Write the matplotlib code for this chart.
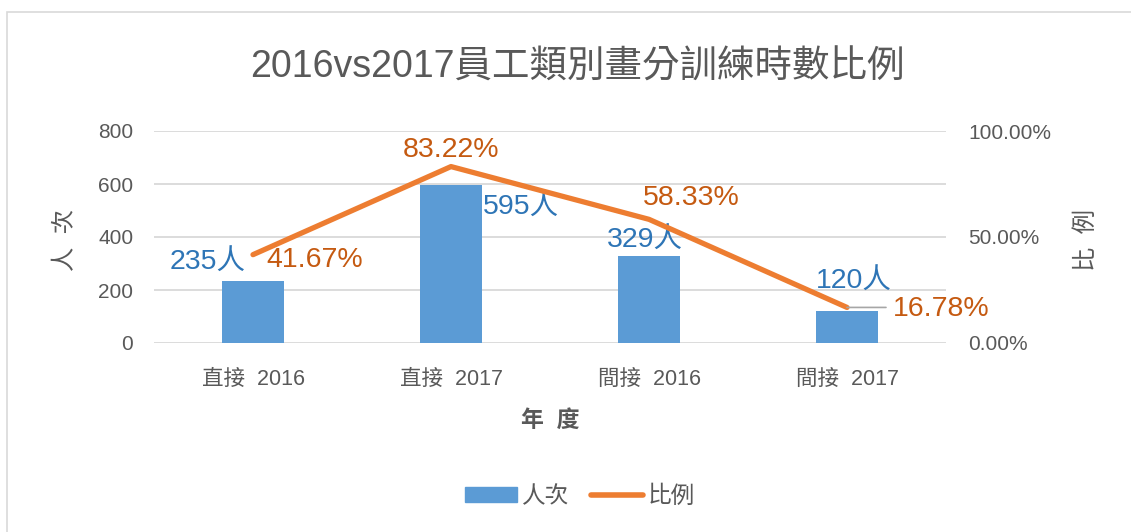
import matplotlib
matplotlib.use("Agg")
from matplotlib import pyplot as plt
from matplotlib.patches import Rectangle
from matplotlib.ticker import FuncFormatter

plt.rcParams['font.family'] = ['Liberation Sans', 'Noto Sans CJK TC', 'DejaVu Sans']

categories = ["直接  2016", "直接  2017", "間接  2016", "間接  2017"]
people = [235, 595, 329, 120]
ratio = [41.67, 83.22, 58.33, 16.78]

# label offsets in pixels (bar labels, line labels)
bar_off = [(-45, 19), (70, -22), (-4, 16), (7, 30)]
line_off = [(62, -5), (0, 17), (42, 21), (94, -2)]

blue = "#5B9BD5"
orange = "#ED7D31"
grey = "#595959"

W, H = 1131, 532
fig = plt.figure(figsize=(W / 100, H / 100), dpi=100)

# outer chart frame
fig.patches.append(Rectangle((7 / W, -0.1), 1.2, 1 - 12 / H + 0.1, transform=fig.transFigure,
                             fill=False, edgecolor="#D9D9D9", linewidth=1.2))

ax = fig.add_axes([154 / W, 1 - 343 / H, 792 / W, 212 / H])
x = range(len(categories))
ax.bar(x, people, width=0.31, color=blue, zorder=2)
ax.set_xlim(-0.5, 3.5)
ax.set_ylim(0, 800)
ax.set_yticks([0, 200, 400, 600, 800])
ax.grid(axis="y", color="#D9D9D9", linewidth=1.3, zorder=0)
ax.set_axisbelow(True)
for s in ax.spines.values():
    s.set_visible(False)
ax.tick_params(length=0, colors=grey, labelsize=15)
ax.tick_params(axis="y", pad=15)
ax.tick_params(axis="x", pad=19)
ax.set_xticks(list(x))
ax.set_xticklabels(categories, fontsize=15.5, color=grey)

ax2 = ax.twinx()
ax2.plot(x, [r / 100 for r in ratio], color=orange, linewidth=3.8, solid_capstyle="round", zorder=3)
ax2.set_ylim(0, 1)
ax2.set_yticks([0, 0.5, 1])
ax2.yaxis.set_major_formatter(FuncFormatter(lambda v, p: f"{v * 100:.2f}%"))
for s in ax2.spines.values():
    s.set_visible(False)
ax2.tick_params(length=0, colors=grey, labelsize=15, pad=16)

for i, v in enumerate(people):
    ax.annotate(f"{v}人", (i, v), xytext=bar_off[i], textcoords="offset pixels",
                ha="center", va="center", fontsize=20.5, color="#2E75B6", zorder=5)
for i, r in enumerate(ratio):
    ax2.annotate(f"{r:.2f}%", (i, r / 100), xytext=line_off[i], textcoords="offset pixels",
                 ha="center", va="center", fontsize=20.5, color="#C55A11", zorder=5)

# leader line for the last ratio label
ax2.annotate("", (3, ratio[3] / 100), xytext=(39, 0), textcoords="offset pixels",
             arrowprops=dict(arrowstyle="-", color="#A6A6A6", linewidth=1.2, shrinkA=0, shrinkB=0))

fig.text(577 / W, 1 - 68 / H, "2016vs2017員工類別畫分訓練時數比例", ha="center", va="center",
         fontsize=27, color=grey)
fig.text(550 / W, 1 - 420 / H, "年  度", ha="center", va="center", fontsize=16.5,
         color=grey, fontweight="bold")
fig.text(66 / W, 1 - 240 / H, "人  次", ha="center", va="center", fontsize=17.5,
         color=grey, rotation=90)
fig.text(1087 / W, 1 - 240 / H, "比  例", ha="center", va="center", fontsize=17.5,
         color=grey, rotation=90)

h1 = Rectangle((0, 0), 1, 1, color=blue)
h2, = plt.plot([], [], color=orange, linewidth=4, solid_capstyle="round")
fig.legend([h1, h2], ["人次", "比例"], loc="center", bbox_to_anchor=(580 / W, 1 - 497 / H),
           ncol=2, frameon=False, fontsize=17, labelcolor=grey, handlelength=2.2,
           handleheight=0.6, handletextpad=0.2, columnspacing=0.9)

fig.savefig("out.png", dpi=100)
